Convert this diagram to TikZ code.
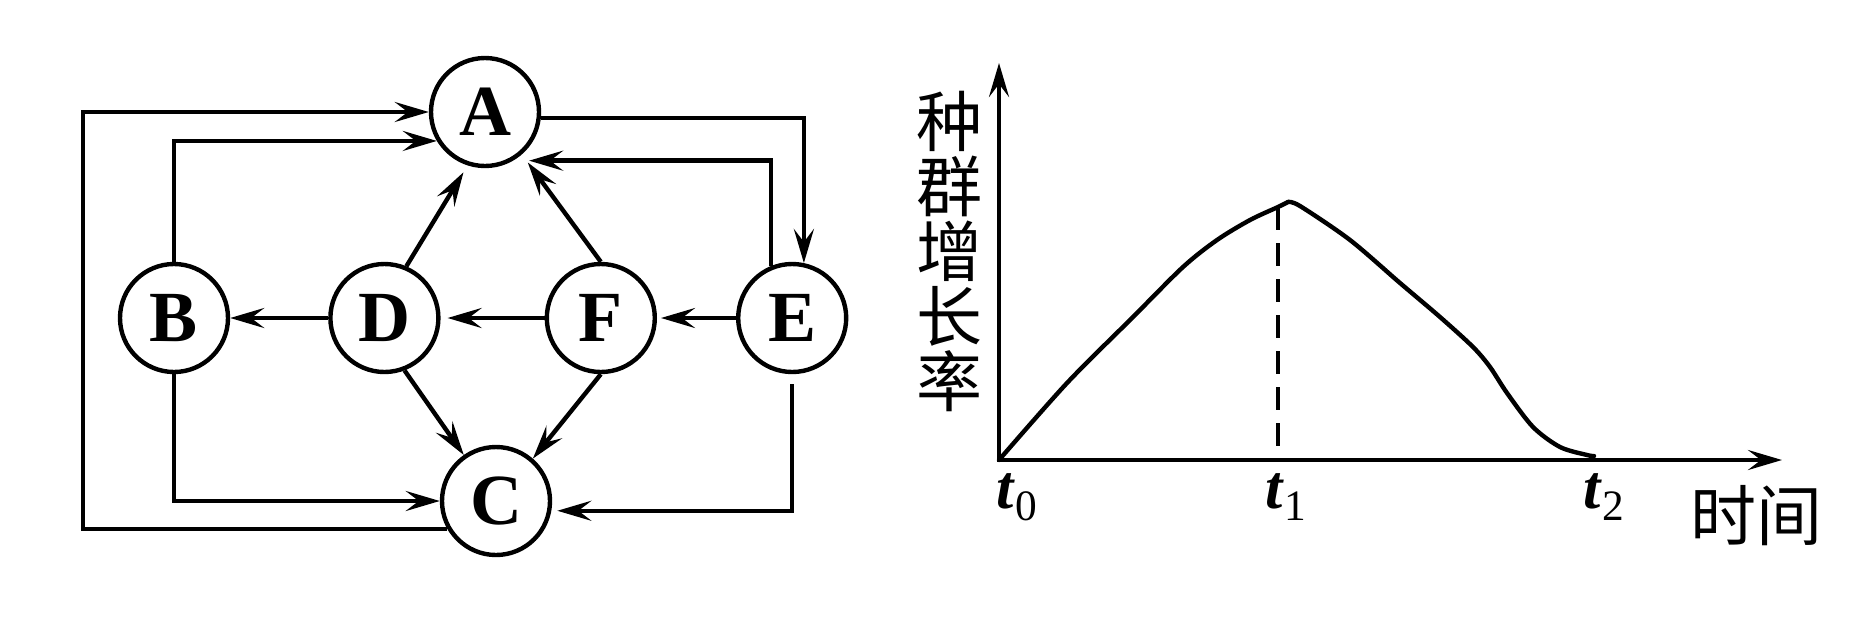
\documentclass[tikz,border=0pt]{standalone}
\usepackage{fontspec}
\setmainfont{Liberation Serif}
\newfontfamily\cjk{Noto Sans CJK SC}
\usetikzlibrary{arrows.meta,positioning}
\tikzset{
  vtx/.style={
    circle, draw=black, line width=2.2pt, minimum size=54pt,
    inner sep=0pt, outer sep=1.1pt,
    font=\fontsize{36}{36}\selectfont\bfseries
  },
  arr/.style={-{Stealth[length=17pt,width=10pt,inset=6.5pt]}, line width=2.2pt},
  tlbl/.style={font=\fontsize{31}{31}\selectfont, inner sep=0pt},
  cjklbl/.style={font=\cjk\fontsize{33}{32.5}\selectfont, inner sep=0pt, align=center}
}

\begin{document}
\begin{tikzpicture}[x=0.5pt, y=-0.5pt]
  \useasboundingbox (0,0) rectangle (1873,633);

  % Food web: top and bottom
  \node[vtx] (A) at (485,112) {A};
  \node[vtx] (C) at (496,501) {C};

  % Middle row
  \node[vtx] (B) at (174,318) {B};
  \node[vtx, right=49pt of B]   (D) {D};
  \node[vtx, right=52pt of D]   (F) {F};
  \node[vtx, right=39.5pt of F] (E) {E};

  % Straight links
  \draw[arr] (D) -- (B);
  \draw[arr, shorten >=3.5pt] (F) -- (D);
  \draw[arr, shorten >=2pt] (E) -- (F);
  \draw[arr, shorten >=4pt] (D.67) -- (A.-108);
  \draw[arr, shorten >=5pt] (F.north) -- (A.-49);
  \draw[arr] (D.-69) -- (C.125);
  \draw[arr] (F.south) -- (C.49);

  % Elbow links
  \draw[arr] (B.north) |- (A.-149);
  \draw[arr] (B.south) |- (C.west);
  \draw[arr] (C.-150) -| ([xshift=-17.5pt]B.west) |- (A.west);
  \draw[arr] (A.-6) -| (E.78);
  \draw[arr, shorten >=8pt] (E.112) |- (A.-60);
  \draw[arr, shorten <=5pt, shorten >=3pt] (E.south) |- (C.-10);

  % Growth-rate chart
  \coordinate (O)    at (999,460);
  \coordinate (ytop) at (999,63);
  \coordinate (xend) at (1782,460);
  \coordinate (top)  at (1278,207);

  \draw[arr] (O) -- (ytop);
  \draw[arr] ([xshift=-1.1pt]O) -- (xend);
  \draw[line width=2.2pt, dash pattern=on 11.5pt off 6.5pt] (top) -- (top |- O);

  \draw[line width=2.2pt, line cap=round, line join=round]
    plot[smooth, tension=0.5] coordinates {
      (999,460) (1067,383) (1133,317) (1183,267) (1217,240)
      (1250,220) (1278,207) (1288,202)};
  \draw[line width=2.2pt, line cap=round, line join=round]
    plot[smooth, tension=0.5] coordinates {
      (1288,202) (1300,206) (1350,240) (1400,283) (1440,317)
      (1473,347) (1490,367) (1507,393) (1533,427) (1560,447)
      (1587,455) (1594,456)};

  % Axis labels
  \node[tlbl] (t0) at (1017,497) {\textbf{\textit{t}}\textsubscript{0}};
  \node[tlbl] (t1) at (1286,497) {\textbf{\textit{t}}\textsubscript{1}};
  \node[tlbl] (t2) at (1604,497) {\textbf{\textit{t}}\textsubscript{2}};
  \node[cjklbl] (time) at (1756,516) {时间};
  \node[cjklbl] (rate) at (949,251) {种\\群\\增\\长\\率};
\end{tikzpicture}
\end{document}
